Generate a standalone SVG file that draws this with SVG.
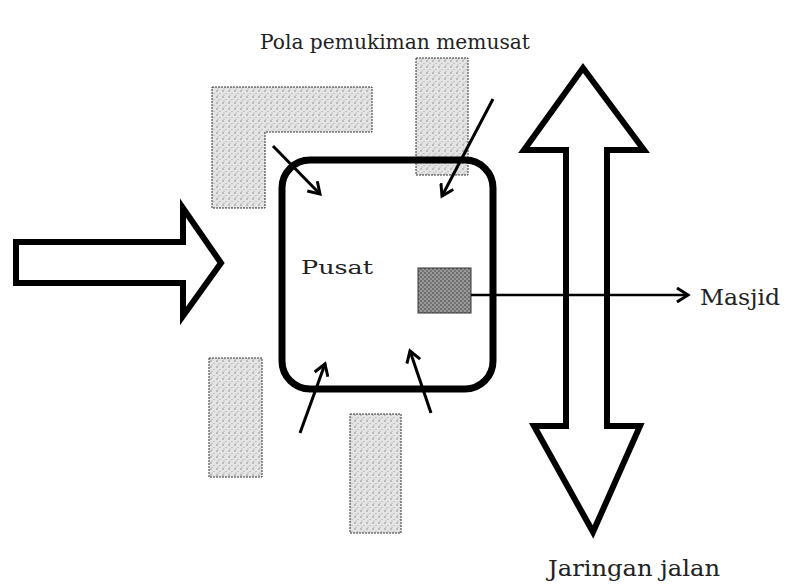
<svg xmlns="http://www.w3.org/2000/svg" width="802" height="587" viewBox="0 0 802 587">
<defs>
<pattern id="stip" width="6" height="6" patternUnits="userSpaceOnUse">
<rect width="6" height="6" fill="#e4e4e4"/>
<circle cx="1" cy="1" r="0.7" fill="#777"/>
<circle cx="4" cy="3.5" r="0.6" fill="#999"/>
<circle cx="2" cy="5" r="0.5" fill="#888"/>
</pattern>
<pattern id="dark" width="4" height="4" patternUnits="userSpaceOnUse">
<rect width="4" height="4" fill="#9a9a9a"/>
<circle cx="1" cy="1" r="0.8" fill="#333"/>
<circle cx="3" cy="3" r="0.8" fill="#444"/>
</pattern>
<marker id="head" viewBox="0 0 16 16" refX="13" refY="8" markerWidth="16" markerHeight="16" markerUnits="userSpaceOnUse" orient="auto">
<path d="M2,1 L13,8 L2,15" fill="none" stroke="#000" stroke-width="3"/>
</marker>
</defs>
<style>
.blk{fill:url(#stip);stroke:#333;stroke-width:1;stroke-dasharray:2 1}
.big{fill:#fff;stroke:#000;stroke-width:6;stroke-linejoin:miter}
.ptr{stroke:#000;stroke-width:3;fill:none;marker-end:url(#head)}
.lbl{font-family:"DejaVu Serif","Liberation Serif",serif;fill:#222}
</style>
<rect width="802" height="587" fill="#fff"/>
<text class="lbl" x="260" y="49" font-size="20" textLength="270" lengthAdjust="spacingAndGlyphs">Pola pemukiman memusat</text>
<g id="block-L"><path class="blk" d="M212,87 L372,87 L372,132 L265,132 L265,208 L212,208 Z"/></g>
<g id="block-TR"><rect class="blk" x="416" y="58" width="52" height="117"/></g>
<g id="block-BL"><rect class="blk" x="209" y="358" width="53" height="119"/></g>
<g id="block-BM"><rect class="blk" x="350" y="414" width="51" height="119"/></g>
<g id="pusat"><rect x="282" y="160" width="211" height="229" rx="28" ry="28" fill="none" stroke="#000" stroke-width="7"/>
<text class="lbl" x="301" y="274" font-size="19" textLength="72" lengthAdjust="spacingAndGlyphs">Pusat</text></g>
<g id="masjid"><rect x="418" y="268" width="53" height="45" fill="url(#dark)" stroke="#333" stroke-width="1"/>
<text class="lbl" x="700" y="305" font-size="22" textLength="80" lengthAdjust="spacingAndGlyphs">Masjid</text></g>
<g id="left-arrow"><path class="big" d="M16,242 L183,242 L183,208 L221,263 L183,316 L183,283 L16,283 Z"/></g>
<g id="road"><path class="big" d="M583,68 L644,150 L607,150 L607,426 L640,426 L593,532 L534,426 L566,426 L566,150 L524,150 Z"/>
<text class="lbl" x="548" y="576" font-size="22" textLength="172" lengthAdjust="spacingAndGlyphs">Jaringan jalan</text></g>
<g id="connectors">
<line class="ptr" x1="273" y1="146" x2="320" y2="194"/>
<line class="ptr" x1="493" y1="99" x2="442" y2="196"/>
<line class="ptr" x1="300" y1="433" x2="325" y2="364"/>
<line class="ptr" x1="431" y1="413" x2="410" y2="351"/>
<line x1="471" y1="295" x2="688" y2="295" stroke="#000" stroke-width="2.5" marker-end="url(#head)"/>
</g>
</svg>
